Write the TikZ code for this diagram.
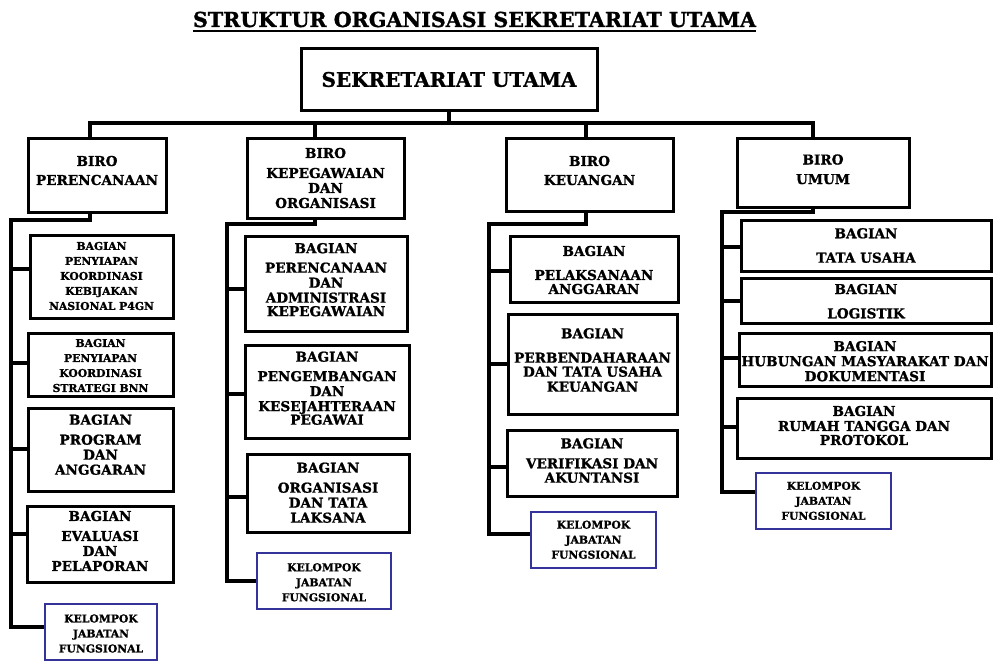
\documentclass[tikz,border=0pt]{standalone}
\usepackage{fontspec}
\setmainfont{DejaVu Serif}[BoldFeatures={FakeBold=1.2}]
\definecolor{kblue}{RGB}{51,51,153}
\newcommand{\fbig}{\fontsize{13.6}{15}\selectfont\bfseries}
\newcommand{\fsml}{\fontsize{10.8}{15}\selectfont\bfseries}
\tikzset{
  box/.style={draw, line width=3pt, inner sep=0pt},
  kbox/.style={draw=kblue, line width=2.6pt, inner sep=0pt},
  conn/.style={line width=3.1pt, line join=miter},
  tbig/.style={align=center, inner sep=0pt, font=\fbig},
  tsml/.style={align=center, inner sep=0pt, font=\fsml},
}
\begin{document}
\begin{tikzpicture}[x=1pt,y=-1pt]
\useasboundingbox (0,0) rectangle (993,661);
\fill[white] (0,0) rectangle (993,661);

% title
\node[anchor=base, inner sep=0pt, font=\fontsize{20.6}{24}\selectfont\bfseries] (title) at (474.5,27) {STRUKTUR ORGANISASI SEKRETARIAT UTAMA};
\draw[line width=1.8pt] ([yshift=-4pt]title.base west) -- ([yshift=-4pt]title.base east);

% top box
\node[box, minimum width=296pt, minimum height=61pt, font=\fontsize{20}{24}\selectfont\bfseries] (sek) at (449,79.5) {SEKRETARIAT UTAMA};

% biro boxes
\node[box, minimum width=138pt, minimum height=74pt] (p1) at (97,175) {};
\node[tbig] (p1t) at (97,170.5) {BIRO\\[4pt]PERENCANAAN};
\node[box, minimum width=157pt, minimum height=80pt] (p2) at (325.5,178) {};
\node[tbig] (p2t) at (325.5,178) {BIRO\\[5pt]KEPEGAWAIAN\\DAN\\ORGANISASI};
\node[box, minimum width=167pt, minimum height=73pt] (p3) at (589.5,174.5) {};
\node[tbig] (p3t) at (589.5,170.5) {BIRO\\[4pt]KEUANGAN};
\node[box, minimum width=172pt, minimum height=69pt] (p4) at (823,172.5) {};
\node[tbig] (p4t) at (823,169.3) {BIRO\\[4.5pt]UMUM};

% column 1
\node[box, minimum width=143pt, minimum height=83pt] (a1) at (101.5,276.5) {};
\node[tsml] (a1t) at (101.5,276) {BAGIAN\\PENYIAPAN\\KOORDINASI\\KEBIJAKAN\\NASIONAL P4GN};
\node[box, minimum width=145pt, minimum height=63pt] (a2) at (100.5,364.5) {};
\node[tsml] (a2t) at (100.5,365.5) {BAGIAN\\PENYIAPAN\\KOORDINASI\\STRATEGI BNN};
\node[box, minimum width=145pt, minimum height=83pt] (a3) at (100.5,449.5) {};
\node[tbig] (a3t) at (100.5,444.7) {BAGIAN\\[5pt]PROGRAM\\DAN\\ANGGARAN};
\node[box, minimum width=146pt, minimum height=76pt] (a4) at (100,544) {};
\node[tbig] (a4t) at (100,541) {BAGIAN\\[5pt]EVALUASI\\DAN\\PELAPORAN};
\node[kbox, minimum width=112pt, minimum height=56pt] (k1) at (101,632) {};
\node[tsml] (k1t) at (101,633.5) {KELOMPOK\\JABATAN\\FUNGSIONAL};

% column 2
\node[box, minimum width=162pt, minimum height=95pt] (b1) at (326,283.5) {};
\node[tbig] (b1t) at (326,279.7) {BAGIAN\\[4.5pt]PERENCANAAN\\DAN\\ADMINISTRASI\\[-1.5pt]KEPEGAWAIAN};
\node[box, minimum width=164pt, minimum height=93pt] (b2) at (327,391.5) {};
\node[tbig] (b2t) at (327,388.2) {BAGIAN\\[4.5pt]PENGEMBANGAN\\DAN\\KESEJAHTERAAN\\[-1.5pt]PEGAWAI};
\node[box, minimum width=162pt, minimum height=78pt] (b3) at (328,493) {};
\node[tbig] (b3t) at (328,492.7) {BAGIAN\\[5pt]ORGANISASI\\DAN TATA\\LAKSANA};
\node[kbox, minimum width=134pt, minimum height=56pt] (k2) at (324,581) {};
\node[tsml] (k2t) at (324,582.3) {KELOMPOK\\JABATAN\\FUNGSIONAL};

% column 3
\node[box, minimum width=168pt, minimum height=66pt] (c1) at (594,269) {};
\node[tbig] (c1t) at (594,270) {BAGIAN\\[9pt]PELAKSANAAN\\[-1pt]ANGGARAN};
\node[box, minimum width=169pt, minimum height=100pt] (c2) at (592.5,364) {};
\node[tbig] (c2t) at (592.5,360) {BAGIAN\\[9.4pt]PERBENDAHARAAN\\[-1pt]DAN TATA USAHA\\KEUANGAN};
\node[box, minimum width=170pt, minimum height=66pt] (c3) at (592,463) {};
\node[tbig] (c3t) at (592,460.5) {BAGIAN\\[5pt]VERIFIKASI DAN\\[-0.6pt]AKUNTANSI};
\node[kbox, minimum width=125pt, minimum height=56pt] (k3) at (593.5,540) {};
\node[tsml] (k3t) at (593.5,539.7) {KELOMPOK\\JABATAN\\FUNGSIONAL};

% column 4
\node[box, minimum width=250pt, minimum height=51pt] (d1) at (866,245.5) {};
\node[tbig] (d1t) at (866,245.5) {BAGIAN\\[9.4pt]TATA USAHA};
\node[box, minimum width=250pt, minimum height=45pt] (d2) at (866,300.5) {};
\node[tbig] (d2t) at (866,301.2) {BAGIAN\\[9.3pt]LOGISTIK};
\node[box, minimum width=252pt, minimum height=53pt] (d3) at (865,359.5) {};
\node[tbig] (d3t) at (865,361.2) {BAGIAN\\HUBUNGAN MASYARAKAT DAN\\DOKUMENTASI};
\node[box, minimum width=254pt, minimum height=60pt] (d4) at (864,428) {};
\node[tbig] (d4t) at (864,425.5) {BAGIAN\\RUMAH TANGGA DAN\\[-1pt]PROTOKOL};
\node[kbox, minimum width=135pt, minimum height=56pt] (k4) at (823.5,501) {};
\node[tsml] (k4t) at (823.5,500.8) {KELOMPOK\\JABATAN\\FUNGSIONAL};

% top bus
\coordinate (bus) at (449,123);
\coordinate (j1) at (90,123);
\coordinate (j2) at (315,123);
\coordinate (j3) at (586,123);
\coordinate (j4) at (813,123);
\draw[conn] (sek.south) -- (bus);
\draw[conn] (j1 |- p1.north) -- (j1) -- (j4) -- (j4 |- p4.north);
\draw[conn] (j2) -- (j2 |- p2.north);
\draw[conn] (j3) -- (j3 |- p3.north);

% column 1 spine
\coordinate (s1) at (11,220);
\coordinate (s1e) at (11,627);
\coordinate (s1a) at (11,269);
\coordinate (s1b) at (11,363);
\coordinate (s1c) at (11,449);
\coordinate (s1d) at (11,534);
\draw[conn] (j1 |- p1.south) |- (s1) -- (s1e) -- (s1e -| k1.west);
\draw[conn] (s1a) -- (s1a -| a1.west);
\draw[conn] (s1b) -- (s1b -| a2.west);
\draw[conn] (s1c) -- (s1c -| a3.west);
\draw[conn] (s1d) -- (s1d -| a4.west);

% column 2 spine
\coordinate (s2) at (227,224);
\coordinate (s2e) at (227,581);
\coordinate (s2a) at (227,289);
\coordinate (s2b) at (227,394);
\coordinate (s2c) at (227,497);
\draw[conn] (j2 |- p2.south) |- (s2) -- (s2e) -- (s2e -| k2.west);
\draw[conn] (s2a) -- (s2a -| b1.west);
\draw[conn] (s2b) -- (s2b -| b2.west);
\draw[conn] (s2c) -- (s2c -| b3.west);

% column 3 spine
\coordinate (s3) at (489,224);
\coordinate (s3e) at (489,534);
\coordinate (s3a) at (489,271);
\coordinate (s3b) at (489,364);
\coordinate (s3c) at (489,467);
\draw[conn] (j3 |- p3.south) |- (s3) -- (s3e) -- (s3e -| k3.west);
\draw[conn] (s3a) -- (s3a -| c1.west);
\draw[conn] (s3b) -- (s3b -| c2.west);
\draw[conn] (s3c) -- (s3c -| c3.west);

% column 4 spine
\coordinate (s4) at (722,212);
\coordinate (s4e) at (722,492);
\coordinate (s4a) at (722,247);
\coordinate (s4b) at (722,301);
\coordinate (s4c) at (722,358);
\coordinate (s4d) at (722,427);
\draw[conn] (j4 |- p4.south) |- (s4) -- (s4e) -- (s4e -| k4.west);
\draw[conn] (s4a) -- (s4a -| d1.west);
\draw[conn] (s4b) -- (s4b -| d2.west);
\draw[conn] (s4c) -- (s4c -| d3.west);
\draw[conn] (s4d) -- (s4d -| d4.west);
\end{tikzpicture}
\end{document}
